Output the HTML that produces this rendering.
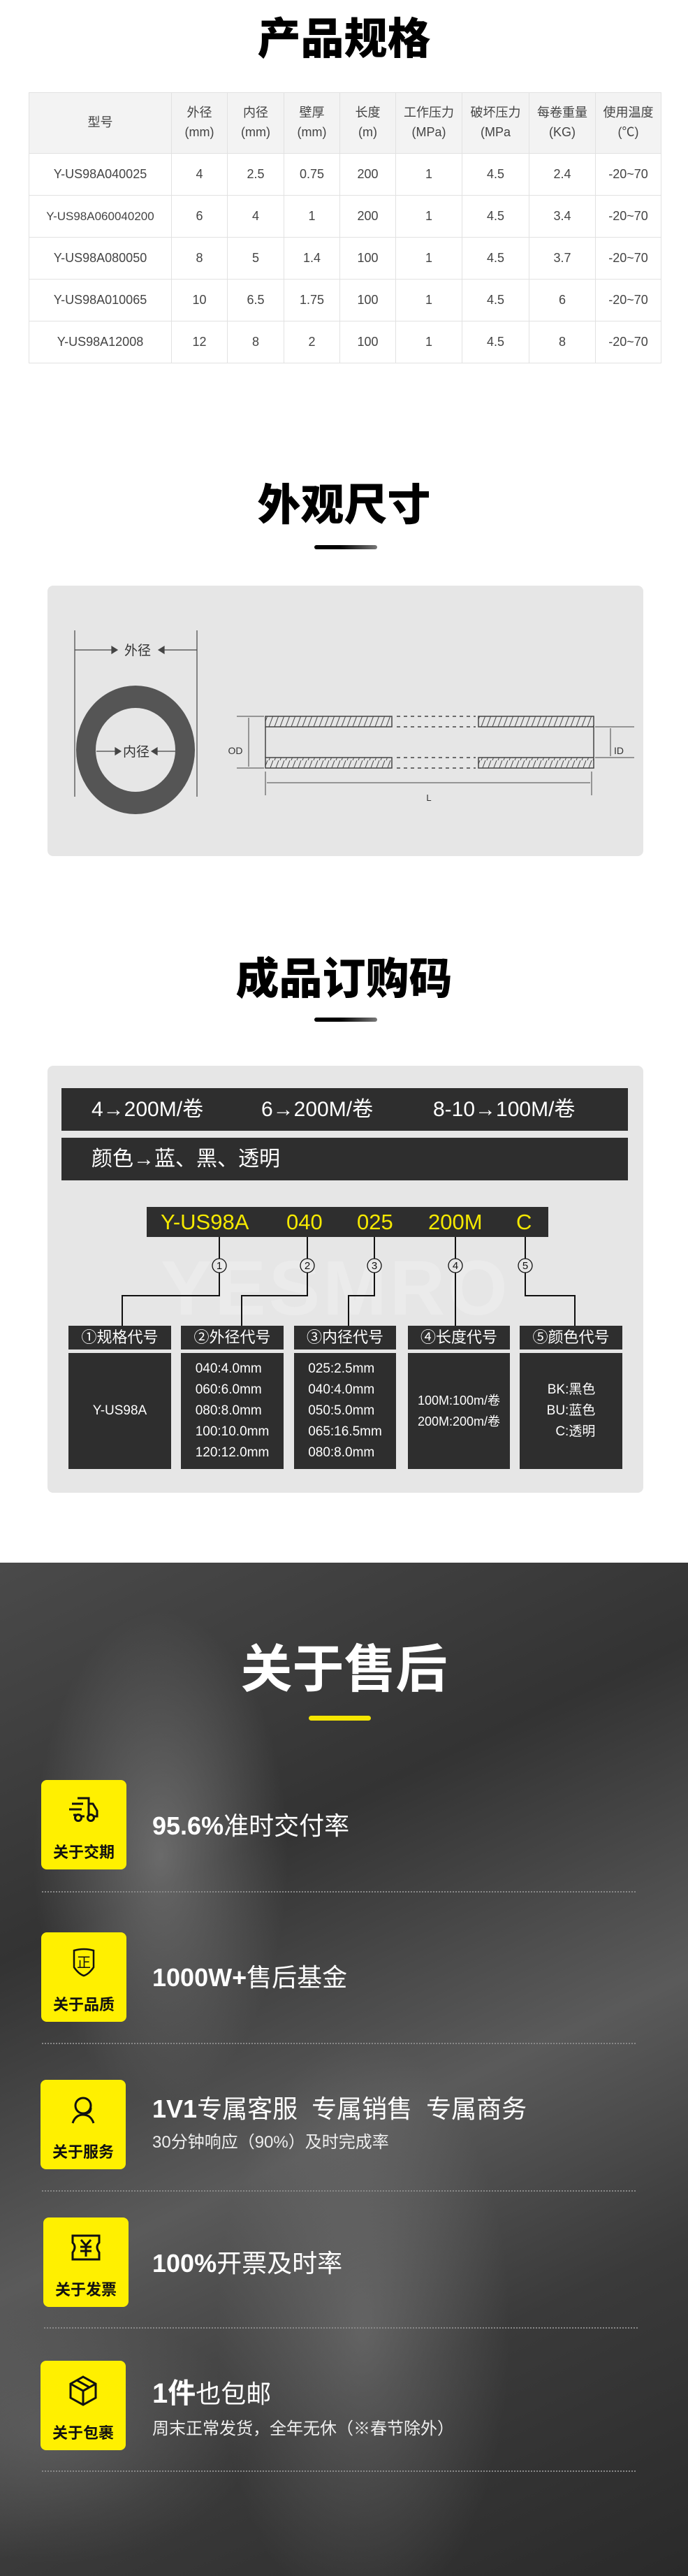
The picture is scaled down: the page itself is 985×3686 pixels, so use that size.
<!DOCTYPE html>
<html><head><meta charset="utf-8">
<style>
*{margin:0;padding:0;box-sizing:border-box}
body{width:985px;height:3686px;position:relative;background:#fff;font-family:"Liberation Sans","Noto Sans CJK SC",sans-serif;overflow:hidden}
.a{position:absolute}
.title{position:absolute;left:0;width:985px;text-align:center;font-weight:900;font-size:62px;color:#000;line-height:1;font-family:"Noto Sans CJK SC",sans-serif}
.ul{position:absolute;height:6px;border-radius:3px;background:linear-gradient(90deg,#000 40%,#777)}
table{position:absolute;left:41px;top:132px;border-collapse:collapse;table-layout:fixed;width:905px;color:#444;font-size:18px}
td{border:1px solid #e2e2e2;text-align:center;height:60px}
tr.h td{height:87px;background:#f3f3f3;line-height:1.55;font-size:18px}
.box{position:absolute;background:#e6e6e6;border-radius:8px}
.bar{position:absolute;background:#2e2e2e;color:#fff;font-size:30px}
.hd{position:absolute;background:#2e2e2e;color:#fff;font-size:22px;text-align:center;line-height:34px;height:34px}
.bd{position:absolute;background:#2e2e2e;color:#fff;font-size:19px;top:1936px;height:166px;display:flex;align-items:center;justify-content:center;text-align:left;line-height:30px}
.dark{position:absolute;left:0;top:2236px;width:985px;height:1450px;background:
radial-gradient(ellipse 260px 500px at 230px 420px,rgba(150,150,150,.55),transparent 70%),
radial-gradient(ellipse 300px 600px at 520px 1100px,rgba(140,140,140,.45),transparent 70%),
radial-gradient(ellipse 400px 260px at 80px 1250px,rgba(130,130,130,.35),transparent 70%),
linear-gradient(155deg,#4a4a4a 0%,#333 30%,#5a5a5a 55%,#3a3a3a 75%,#2a2a2a 100%)}
.yb{position:absolute;width:122px;height:128px;background:#fff000;border-radius:8px}
.yb span{position:absolute;left:0;width:100%;top:86px;text-align:center;font-size:22px;font-weight:bold;color:#111}
.yb svg{position:absolute;left:38px;top:20px}
.it{position:absolute;left:218px;color:#fff;font-size:36px;font-weight:bold;line-height:1}
.sub{position:absolute;left:218px;color:#eee;font-size:24px;line-height:1}
.dot{position:absolute;left:60px;width:850px;border-top:2px dotted #888}
</style></head><body>

<div class="title" style="top:19px">产品规格</div>
<table>
<colgroup><col style="width:204px"><col style="width:80px"><col style="width:81px"><col style="width:80px"><col style="width:80px"><col style="width:95px"><col style="width:96px"><col style="width:95px"><col style="width:94px"></colgroup>
<tr class="h"><td>型号</td><td>外径<br>(mm)</td><td>内径<br>(mm)</td><td>壁厚<br>(mm)</td><td>长度<br>(m)</td><td>工作压力<br>(MPa)</td><td>破坏压力<br>(MPa</td><td>每卷重量<br>(KG)</td><td>使用温度<br>(℃)</td></tr>
<tr><td>Y-US98A040025</td><td>4</td><td>2.5</td><td>0.75</td><td>200</td><td>1</td><td>4.5</td><td>2.4</td><td>-20~70</td></tr>
<tr><td style="font-size:17px">Y-US98A060040200</td><td>6</td><td>4</td><td>1</td><td>200</td><td>1</td><td>4.5</td><td>3.4</td><td>-20~70</td></tr>
<tr><td>Y-US98A080050</td><td>8</td><td>5</td><td>1.4</td><td>100</td><td>1</td><td>4.5</td><td>3.7</td><td>-20~70</td></tr>
<tr><td>Y-US98A010065</td><td>10</td><td>6.5</td><td>1.75</td><td>100</td><td>1</td><td>4.5</td><td>6</td><td>-20~70</td></tr>
<tr><td>Y-US98A12008</td><td>12</td><td>8</td><td>2</td><td>100</td><td>1</td><td>4.5</td><td>8</td><td>-20~70</td></tr>
</table>

<div class="title" style="top:686px">外观尺寸</div>
<div class="ul" style="left:450px;top:780px;width:90px"></div>
<div class="box" style="left:68px;top:838px;width:853px;height:387px"></div>

<div class="title" style="top:1364px">成品订购码</div>
<div class="ul" style="left:450px;top:1456px;width:90px"></div>
<div class="box" style="left:68px;top:1525px;width:853px;height:611px"></div>
<div class="bar" style="left:88px;top:1557px;width:811px;height:61px;line-height:61px"><span class="a" style="left:43px">4→200M/卷</span><span class="a" style="left:286px">6→200M/卷</span><span class="a" style="left:532px">8-10→100M/卷</span></div>
<div class="bar" style="left:88px;top:1628px;width:811px;height:61px;line-height:61px"><span class="a" style="left:43px">颜色→蓝、黑、透明</span></div>
<div class="a" style="left:230px;top:1780px;font-size:110px;font-weight:900;color:rgba(255,255,255,.22);letter-spacing:4px">YESMRO</div>
<div class="a" style="left:210px;top:1727px;width:575px;height:43px;background:#2e2e2e;color:#f5e900;font-size:31px;line-height:43px"><span class="a" style="left:20px">Y-US98A</span><span class="a" style="left:200px">040</span><span class="a" style="left:301px">025</span><span class="a" style="left:403px">200M</span><span class="a" style="left:529px">C</span></div>

<div class="hd" style="left:98px;top:1897px;width:147px">①规格代号</div>
<div class="hd" style="left:259px;top:1897px;width:147px">②外径代号</div>
<div class="hd" style="left:421px;top:1897px;width:146px">③内径代号</div>
<div class="hd" style="left:584px;top:1897px;width:146px">④长度代号</div>
<div class="hd" style="left:744px;top:1897px;width:147px">⑤颜色代号</div>
<div class="bd" style="left:98px;width:147px;text-align:center">Y-US98A</div>
<div class="bd" style="left:259px;width:147px"><div>040:4.0mm<br>060:6.0mm<br>080:8.0mm<br>100:10.0mm<br>120:12.0mm</div></div>
<div class="bd" style="left:421px;width:146px"><div>025:2.5mm<br>040:4.0mm<br>050:5.0mm<br>065:16.5mm<br>080:8.0mm</div></div>
<div class="bd" style="left:584px;width:146px;font-size:18px"><div>100M:100m/卷<br>200M:200m/卷</div></div>
<div class="bd" style="left:744px;width:147px"><div style="text-align:right">BK:黑色<br>BU:蓝色<br>C:透明</div></div>

<svg class="a" style="left:0;top:0" width="985" height="2200">
<defs><pattern id="hp" width="8" height="16" patternUnits="userSpaceOnUse"><line x1="1" y1="16" x2="7" y2="0" stroke="#444" stroke-width="1"/></pattern></defs>
<ellipse cx="194" cy="1073" rx="85" ry="92" fill="#555"/>
<ellipse cx="194" cy="1073" rx="57" ry="60" fill="#e6e6e6"/>
<g stroke="#444" stroke-width="1.2" fill="#444">
<line x1="107" y1="902" x2="107" y2="1140"/><line x1="282" y1="902" x2="282" y2="1140"/>
<line x1="107" y1="930" x2="160" y2="930"/><path d="M160 925 L168 930 L160 935Z"/>
<line x1="235" y1="930" x2="282" y2="930"/><path d="M235 925 L227 930 L235 935Z"/>
<line x1="138" y1="1075" x2="165" y2="1075"/><path d="M165 1070 L173 1075 L165 1080Z"/>
<line x1="225" y1="1075" x2="251" y2="1075"/><path d="M225 1070 L217 1075 L225 1080Z"/>
</g>
<text x="197" y="937" font-size="19" text-anchor="middle" fill="#333" font-family="Noto Sans CJK SC">外径</text>
<text x="195" y="1082" font-size="19" text-anchor="middle" fill="#333" font-family="Noto Sans CJK SC">内径</text>
<g stroke="#444" stroke-width="1.5">
<rect x="380" y="1025" width="181" height="15" fill="url(#hp)"/>
<rect x="685" y="1025" width="165" height="15" fill="url(#hp)"/>
<rect x="380" y="1084" width="181" height="15" fill="url(#hp)"/>
<rect x="685" y="1084" width="165" height="15" fill="url(#hp)"/>
<g stroke-dasharray="5,5"><line x1="568" y1="1025" x2="681" y2="1025"/><line x1="568" y1="1040" x2="681" y2="1040"/><line x1="568" y1="1084" x2="681" y2="1084"/><line x1="568" y1="1099" x2="681" y2="1099"/></g>
<line x1="380" y1="1040" x2="380" y2="1084"/><line x1="850" y1="1040" x2="850" y2="1084"/>
<line x1="339" y1="1025" x2="378" y2="1025" stroke-width="1"/><line x1="339" y1="1099" x2="378" y2="1099" stroke-width="1"/>
<line x1="356" y1="1027" x2="356" y2="1097" stroke-width="1"/>
<line x1="852" y1="1040" x2="908" y2="1040" stroke-width="1"/><line x1="852" y1="1084" x2="908" y2="1084" stroke-width="1"/>
<line x1="874" y1="1042" x2="874" y2="1082" stroke-width="1"/>
<line x1="380" y1="1104" x2="380" y2="1138" stroke-width="1"/><line x1="847" y1="1104" x2="847" y2="1138" stroke-width="1"/>
<line x1="382" y1="1120" x2="845" y2="1120" stroke-width="1"/>
</g>
<text x="337" y="1079" font-size="14" text-anchor="middle" fill="#333">OD</text>
<text x="886" y="1079" font-size="14" text-anchor="middle" fill="#333">ID</text>
<text x="614" y="1146" font-size="13" text-anchor="middle" fill="#333">L</text>
<g stroke="#111" stroke-width="2" fill="none">
<path d="M314 1770 V1801 M314 1821 V1854 H175 V1897"/>
<path d="M440 1770 V1801 M440 1821 V1854 H346 V1897"/>
<path d="M536 1770 V1801 M536 1821 V1854 H499 V1897"/>
<path d="M652 1770 V1801 M652 1821 V1897"/>
<path d="M752 1770 V1801 M752 1821 V1854 H823 V1897"/>
<circle cx="314" cy="1811" r="10" stroke-width="1.3"/><circle cx="440" cy="1811" r="10" stroke-width="1.3"/><circle cx="536" cy="1811" r="10" stroke-width="1.3"/><circle cx="652" cy="1811" r="10" stroke-width="1.3"/><circle cx="752" cy="1811" r="10" stroke-width="1.3"/>
</g>
<g font-size="15" text-anchor="middle" fill="#111"><text x="314" y="1816">1</text><text x="440" y="1816">2</text><text x="536" y="1816">3</text><text x="652" y="1816">4</text><text x="752" y="1816">5</text></g>
</svg>

<div class="dark"></div>
<div class="title" style="top:2346px;color:#fff;font-size:74px;font-weight:bold">关于售后</div>
<div class="a" style="left:442px;top:2455px;width:89px;height:7px;border-radius:4px;background:#f5e600"></div>

<div class="yb" style="left:59px;top:2547px"><svg width="46" height="46" viewBox="0 0 46 46" fill="none" stroke="#111" stroke-width="3"><path d="M14 6 H30 V32 M30 14 H36 L42 24 V32 H38 M24 32 H18"/><path d="M6 14 H22 M2 22 H20 M8 30 H12"/><circle cx="15" cy="34" r="4.5"/><circle cx="33" cy="34" r="4.5"/></svg><span>关于交期</span></div>
<div class="it" style="top:2595px">95.6%<span style="font-weight:normal">准时交付率</span></div>
<div class="dot" style="top:2706px"></div>

<div class="yb" style="left:59px;top:2765px"><svg width="46" height="46" viewBox="0 0 46 46" fill="none" stroke="#111" stroke-width="2.5"><path d="M9 6 Q23 2 37 6 V30 Q30 40 23 42 Q16 40 9 30 Z"/><text x="23" y="30" font-size="20" fill="#111" stroke="none" text-anchor="middle" font-family="Noto Sans CJK SC">正</text></svg><span>关于品质</span></div>
<div class="it" style="top:2812px">1000W+<span style="font-weight:normal">售后基金</span></div>
<div class="dot" style="top:2923px"></div>

<div class="yb" style="left:58px;top:2976px"><svg width="46" height="46" viewBox="0 0 46 46" fill="none" stroke="#111" stroke-width="3"><circle cx="23" cy="17" r="11"/><path d="M8 42 Q12 30 23 30 Q34 30 38 42 M34 20 Q34 28 26 28"/></svg><span>关于服务</span></div>
<div class="it" style="top:3000px">1V1<span style="font-weight:normal">专属客服&nbsp;&nbsp;专属销售&nbsp;&nbsp;专属商务</span></div>
<div class="sub" style="top:3054px">30分钟响应（90%）及时完成率</div>
<div class="dot" style="top:3134px"></div>

<div class="yb" style="left:62px;top:3173px"><svg width="46" height="46" viewBox="0 0 46 46" fill="none" stroke="#111" stroke-width="3"><path d="M4 6 H42 V16 Q36 22 42 30 V40 H4 V30 Q10 22 4 16 Z"/><path d="M16 12 L23 20 L30 12 M23 20 V36 M15 22 H31 M15 28 H31"/></svg><span>关于发票</span></div>
<div class="it" style="top:3221px">100%<span style="font-weight:normal">开票及时率</span></div>
<div class="dot" style="top:3330px;left:63px"></div>

<div class="yb" style="left:58px;top:3378px"><svg width="46" height="46" viewBox="0 0 46 46" fill="none" stroke="#111" stroke-width="3"><path d="M23 3 L41 13 V33 L23 43 L5 33 V13 Z M5 13 L23 23 L41 13 M23 23 V43 M14 8 L32 18"/></svg><span>关于包裹</span></div>
<div class="it" style="top:3405px;font-size:40px">1件<span style="font-weight:normal;font-size:36px">也包邮</span></div>
<div class="sub" style="top:3464px">周末正常发货，全年无休（※春节除外）</div>
<div class="dot" style="top:3535px"></div>
</body></html>
